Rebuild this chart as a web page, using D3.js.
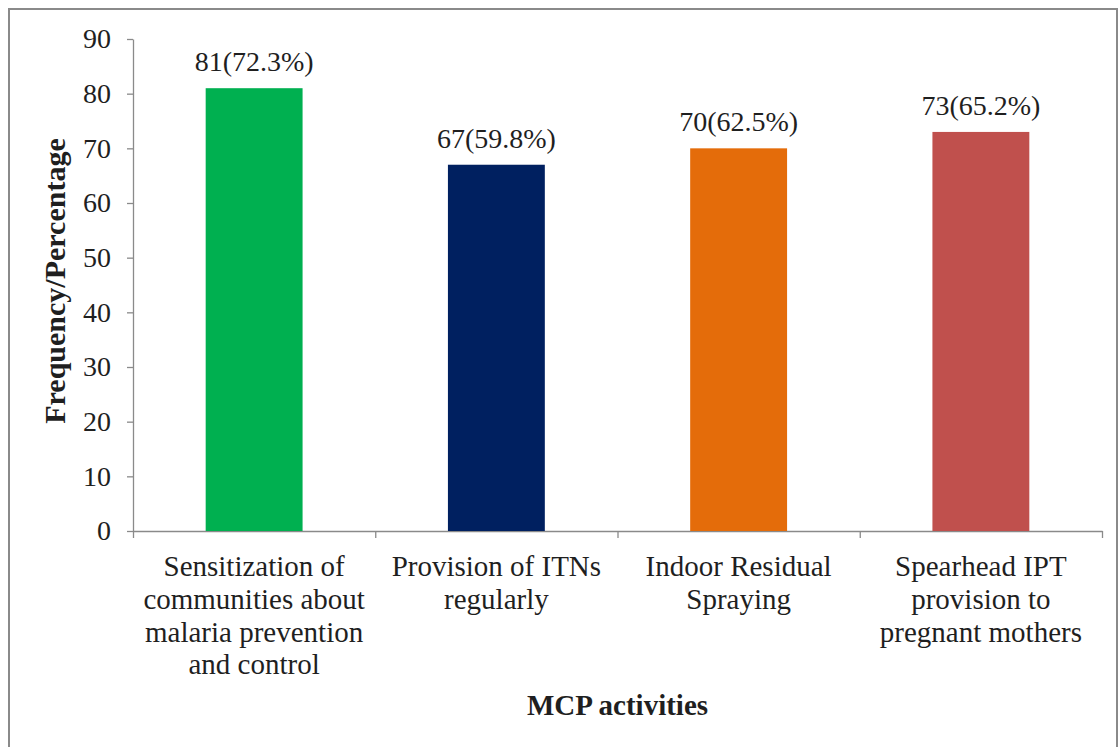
<!DOCTYPE html>
<html>
<head>
<meta charset="utf-8">
<script src="https://cdn.jsdelivr.net/npm/d3@7"></script>
<style>
  body { margin: 0; background: #fff; }
  svg text { font-family: "Liberation Serif", "Times New Roman", serif; fill: #1f1f1f; }
</style>
</head>
<body>
<div id="chart"></div>
<script>
// data
const categories = [
  ["Sensitization of", "communities about", "malaria prevention", "and control"],
  ["Provision of ITNs", "regularly"],
  ["Indoor Residual", "Spraying"],
  ["Spearhead IPT", "provision to", "pregnant mothers"]
]
const values = [81, 67, 70, 73]
const percents = ["72.3%", "59.8%", "62.5%", "65.2%"]
const colors = ["#00B050", "#002060", "#E46C0A", "#C0504D"]
const yTicks = [0, 10, 20, 30, 40, 50, 60, 70, 80, 90]

const WIDTH = 1120
const HEIGHT = 747
const LEFT = 133, RIGHT = 1102, TOP = 39, BOTTOM = 531

const svg = d3.select("#chart")
  .append("svg")
  .attr("width", WIDTH)
  .attr("height", HEIGHT)

// outer frame
svg.append("rect")
  .attr("x", 9).attr("y", 9)
  .attr("width", 1108).attr("height", 760)
  .attr("fill", "none")
  .attr("stroke", "#8a8a8a")
  .attr("stroke-width", 2)

const x = d3.scaleBand()
  .domain(d3.range(categories.length))
  .range([LEFT, RIGHT])
  .paddingInner(0.6)
  .paddingOuter(0.3)

// band edges for the category ticks
const xEdge = d3.scaleLinear()
  .domain([0, categories.length])
  .range([LEFT, RIGHT])

const y = d3.scaleLinear()
  .domain([0, 90])
  .range([BOTTOM, TOP])

// y axis
const yAxis = svg.append("g")
  .attr("transform", `translate(${LEFT},0)`)
  .call(d3.axisLeft(y).tickValues(yTicks).tickSize(6).tickPadding(16).tickSizeOuter(0))
yAxis.select(".domain").attr("stroke", "#8a8a8a").attr("stroke-width", 1.3)
yAxis.selectAll(".tick line").attr("stroke", "#8a8a8a").attr("stroke-width", 1.3)
yAxis.selectAll(".tick text")
  .attr("font-size", 28)

// x axis line + ticks at band edges
const xAxis = svg.append("g")
  .attr("transform", `translate(0,${BOTTOM})`)
  .call(d3.axisBottom(xEdge).tickValues(d3.range(categories.length + 1)).tickSize(7).tickFormat("").tickSizeOuter(0))
xAxis.select(".domain").attr("stroke", "#8a8a8a").attr("stroke-width", 1.3)
xAxis.selectAll(".tick line").attr("stroke", "#8a8a8a").attr("stroke-width", 1.3)

// bars
svg.selectAll(".bar")
  .data(values)
  .enter()
  .append("rect")
  .attr("class", "bar")
  .attr("x", (d, i) => x(i))
  .attr("width", x.bandwidth())
  .attr("y", d => y(d))
  .attr("height", d => y(0) - y(d))
  .attr("fill", (d, i) => colors[i])

// data labels
svg.selectAll(".lbl")
  .data(values)
  .enter()
  .append("text")
  .attr("class", "lbl")
  .attr("x", (d, i) => x(i) + x.bandwidth() / 2)
  .attr("y", d => y(d) - 17)
  .attr("text-anchor", "middle")
  .attr("font-size", 28)
  .text((d, i) => `${d}(${percents[i]})`)

// category labels
const cat = svg.selectAll(".cat")
  .data(categories)
  .enter()
  .append("text")
  .attr("class", "cat")
  .attr("text-anchor", "middle")
  .attr("font-size", 29)
  .attr("transform", (d, i) => `translate(${x(i) + x.bandwidth() / 2},576)`)
cat.selectAll("tspan")
  .data(d => d)
  .enter()
  .append("tspan")
  .attr("x", 0)
  .attr("y", (d, j) => j * 32.8)
  .text(d => d)

// axis titles
svg.append("text")
  .attr("x", (LEFT + RIGHT) / 2)
  .attr("y", 715)
  .attr("text-anchor", "middle")
  .attr("font-size", 29)
  .attr("font-weight", "bold")
  .text("MCP activities")

svg.append("text")
  .attr("transform", `translate(65,${(TOP + BOTTOM) / 2 - 4}) rotate(-90)`)
  .attr("text-anchor", "middle")
  .attr("font-size", 30)
  .attr("font-weight", "bold")
  .text("Frequency/Percentage")
</script>
</body>
</html>
